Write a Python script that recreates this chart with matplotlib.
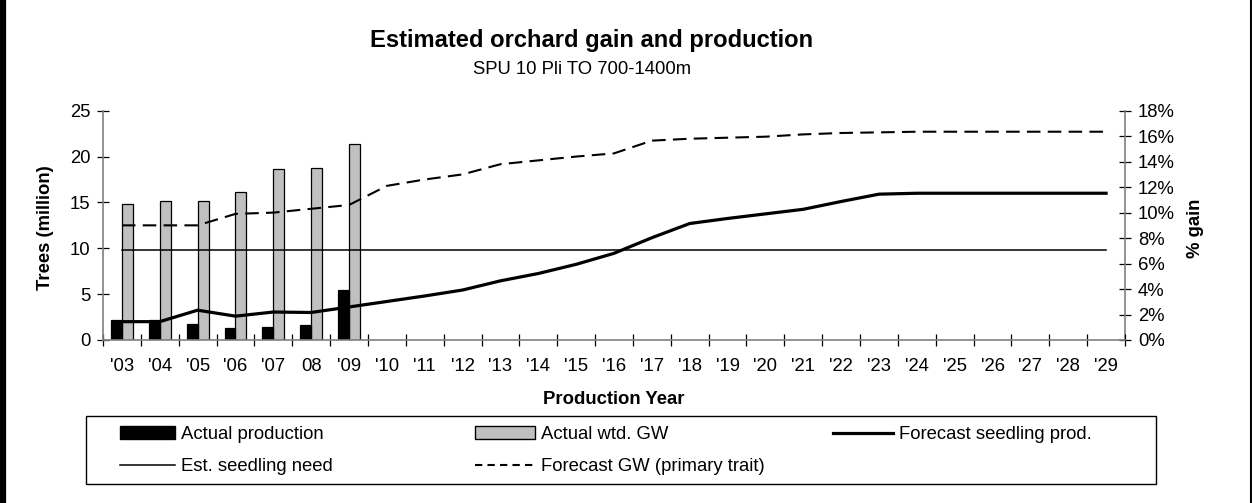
import matplotlib
matplotlib.use("Agg")
import matplotlib.pyplot as plt
from matplotlib.lines import Line2D
from matplotlib.patches import Rectangle, Patch
import numpy as np

plt.rcParams['font.family'] = ['Liberation Sans', 'DejaVu Sans']

years = ["'03", "'04", "'05", "'06", "'07", "08", "'09", "'10", "'11", "'12", "'13",
         "'14", "'15", "'16", "'17", "'18", "'19", "'20", "'21", "'22", "'23", "'24",
         "'25", "'26", "'27", "'28", "'29"]

actual_production = [2.2, 2.15, 1.7, 1.3, 1.4, 1.6, 5.45]          # million trees
actual_wtd_gw = [10.7, 10.9, 10.9, 11.6, 13.4, 13.5, 15.4]          # % gain
forecast_seedling_prod = [2.0, 2.0, 3.25, 2.6, 3.05, 3.0, 3.6, 4.2, 4.8, 5.45,
                          6.45, 7.25, 8.25, 9.45, 11.15, 12.7, 13.25, 13.75, 14.25,
                          15.1, 15.9, 16.0, 16.0, 16.0, 16.0, 16.0, 16.0]   # million trees
est_seedling_need = [9.8] * 27                                     # million trees
forecast_gw = [9.0, 9.0, 9.0, 9.9, 10.0, 10.3, 10.6, 12.1, 12.6, 13.0, 13.8, 14.1,
               14.4, 14.65, 15.65, 15.8, 15.88, 15.96, 16.14, 16.25, 16.3, 16.35,
               16.35, 16.35, 16.35, 16.35, 16.35]                   # % gain

W, H = 1252, 503
fig = plt.figure(figsize=(W / 100, H / 100), dpi=100)
fig.patch.set_facecolor('white')

def fx(px):
    return px / W

def fy(py):
    return 1 - py / H

ax_l, ax_r, ax_t, ax_b = 103, 1125, 110.7, 340
ax = fig.add_axes([fx(ax_l), fy(ax_b), fx(ax_r - ax_l), (ax_b - ax_t) / H])
ax2 = ax.twinx()
ax.set_zorder(ax2.get_zorder() + 1)
ax.patch.set_visible(False)

x = np.arange(len(years))
xb = np.arange(len(actual_production))
bw = 0.29

ax2.bar(xb + bw / 2, actual_wtd_gw, width=bw, color='#c0c0c0', edgecolor='black',
        linewidth=0.9, zorder=2)
ax2.plot(x, forecast_gw, color='black', lw=1.5, dashes=(6.5, 3.5), zorder=3)

ax.bar(xb - bw / 2, actual_production, width=bw, color='black', edgecolor='black',
       linewidth=0.9, zorder=2)
ax.plot(x, est_seedling_need, color='black', lw=1.1, zorder=3)
ax.plot(x, forecast_seedling_prod, color='black', lw=2.3, zorder=4,
        solid_joinstyle='miter')

ax.set_xlim(-0.5, len(years) - 0.5)
ax.set_ylim(0, 25)
ax2.set_ylim(0, 18)
ax.set_yticks(np.arange(0, 26, 5))
ax2.set_yticks(np.arange(0, 19, 2))
ax2.set_yticklabels([f"{v}%" for v in range(0, 19, 2)])

ax.set_xticks(np.arange(-0.5, len(years) + 0.5, 1))
ax.set_xticklabels([])
ax.set_xticks(x, minor=True)
ax.set_xticklabels(years, minor=True)

fs = 13.3
spine_col = '#808080'
for a in (ax, ax2):
    for s in a.spines.values():
        s.set_visible(False)
ax.spines['left'].set_visible(True)
ax.spines['bottom'].set_visible(True)
ax2.spines['right'].set_visible(True)
for s in (ax.spines['left'], ax.spines['bottom'], ax2.spines['right']):
    s.set_color(spine_col)
    s.set_linewidth(1.2)

ax.tick_params(axis='both', which='major', direction='inout', length=8.5, width=0.9,
               color='black', labelsize=fs, pad=5)
ax.tick_params(axis='x', which='minor', length=0, labelsize=fs, pad=13)
ax2.tick_params(axis='y', which='major', direction='inout', length=8.5, width=0.9,
                color='black', labelsize=fs, pad=5)

fig.text(fx(45), fy(228), 'Trees (million)', rotation=90, ha='center', va='center',
         fontsize=fs, fontweight='bold')
fig.text(fx(1196), fy(228), '% gain', rotation=90, ha='center', va='center',
         fontsize=fs, fontweight='bold')
fig.text(fx(614), fy(400), 'Production Year', ha='center', va='center',
         fontsize=fs, fontweight='bold')
fig.text(fx(592), fy(41), 'Estimated orchard gain and production', ha='center',
         va='center', fontsize=17.1, fontweight='bold')
fig.text(fx(582), fy(69), 'SPU 10 Pli TO 700-1400m', ha='center', va='center',
         fontsize=fs)

# legend frame
fig.add_artist(Rectangle((fx(86), fy(484)), fx(1156 - 86), (484 - 416) / H,
                         transform=fig.transFigure, fill=False, edgecolor='black',
                         linewidth=1.0))

h_prod = Patch(facecolor='black', edgecolor='black')
h_gw = Patch(facecolor='#c0c0c0', edgecolor='black')
h_fsp = Line2D([], [], color='black', lw=2.3)
h_need = Line2D([], [], color='black', lw=1.1)
h_fgw = Line2D([], [], color='black', lw=1.5, dashes=(3.5, 2.5))

common = dict(frameon=False, fontsize=fs, borderpad=0, borderaxespad=0,
              handletextpad=0.3, labelspacing=0.82, handleheight=0.65, loc='upper left')
top = fy(426)
fig.legend([h_prod, h_need], ['Actual production', 'Est. seedling need'],
           bbox_to_anchor=(fx(120), top), handlelength=3.0, **common)
fig.legend([h_gw, h_fgw], ['Actual wtd. GW', 'Forecast GW (primary trait)'],
           bbox_to_anchor=(fx(475), top), handlelength=3.25, **common)
fig.legend([h_fsp], ['Forecast seedling prod.'],
           bbox_to_anchor=(fx(833), top), handlelength=3.25, **common)

# outer frame lines (left thick, right thin)
fig.add_artist(Line2D([fx(3), fx(3)], [0, 1], transform=fig.transFigure,
                      color='black', lw=4.5))
fig.add_artist(Line2D([fx(1251), fx(1251)], [0, 1], transform=fig.transFigure,
                      color='black', lw=1.5))

fig.savefig('out.png', dpi=100, facecolor='white')
